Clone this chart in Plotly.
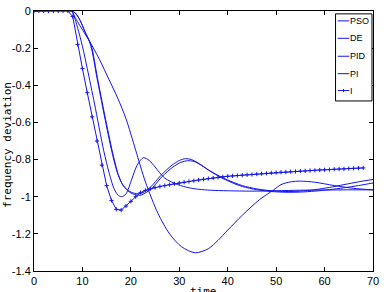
import plotly.graph_objects as go

# ---- data ----
pso_t = [0, 7.7, 8.5, 9.5, 10.5, 11.7, 13, 14.5, 16.1, 17.2, 18.2, 19.5, 20.8, 21.6, 22.5, 24, 26.2, 28.5, 30, 31.3, 32.5, 34, 36, 38, 40, 43, 46, 49, 52, 55, 58, 61, 64, 67, 70]
pso_y = [0, 0, -0.01, -0.05, -0.11, -0.184, -0.36, -0.56, -0.76, -0.87, -0.93, -0.968, -0.982, -0.984, -0.978, -0.95, -0.885, -0.83, -0.805, -0.795, -0.80, -0.82, -0.855, -0.885, -0.91, -0.94, -0.958, -0.968, -0.972, -0.97, -0.962, -0.95, -0.935, -0.92, -0.907]

de_t = [0, 7.7, 8.5, 9.5, 10.5, 11.8, 13.1, 14.6, 16.3, 17.4, 18.4, 19.7, 21, 22, 23, 24.5, 26.5, 28.7, 30.3, 31.7, 33, 34.5, 36.5, 38.5, 40.5, 43, 46, 49, 52, 55, 58, 61, 64, 67, 70]
de_y = [0, 0, -0.01, -0.05, -0.11, -0.184, -0.36, -0.56, -0.77, -0.88, -0.94, -0.975, -0.99, -0.992, -0.98, -0.95, -0.89, -0.84, -0.815, -0.806, -0.81, -0.83, -0.865, -0.895, -0.92, -0.945, -0.962, -0.972, -0.976, -0.975, -0.97, -0.962, -0.952, -0.94, -0.926]

pid_t = [0, 7.7, 8.3, 9, 10, 11, 12.5, 14.4, 15.5, 16.5, 17.3, 18.1, 19, 20.2, 21.3, 22.6, 23.8, 25, 27, 29.7, 32, 34, 36.4, 40, 45, 50, 55, 60, 65, 70]
pid_y = [0, 0, -0.03, -0.09, -0.19, -0.31, -0.5, -0.753, -0.87, -0.955, -0.99, -1.0, -0.985, -0.905, -0.83, -0.79, -0.805, -0.84, -0.9, -0.935, -0.952, -0.96, -0.965, -0.968, -0.97, -0.968, -0.965, -0.964, -0.963, -0.963]

pi_t = [0, 7.7, 8.5, 9.5, 11.4, 13.5, 15.5, 17.3, 19, 21, 23, 25.6, 28, 30.5, 33.3, 36, 38, 40, 43, 46.6, 49.4, 51, 53, 55, 58, 62, 66, 70]
pi_y = [0, 0, -0.035, -0.08, -0.16, -0.26, -0.37, -0.47, -0.58, -0.75, -0.92, -1.09, -1.2, -1.27, -1.302, -1.28, -1.235, -1.18, -1.1, -1.015, -0.965, -0.935, -0.92, -0.916, -0.922, -0.94, -0.955, -0.963]

i_t = list(range(0, 69))
i_y = [0, 0, 0, 0, 0, 0, 0, 0, -0.03, -0.18, -0.31, -0.44, -0.57, -0.70, -0.83, -0.94, -1.02, -1.068, -1.072, -1.05,
       -1.025, -1.0, -0.978, -0.966, -0.958, -0.951, -0.945, -0.94, -0.935, -0.93,
       -0.926, -0.922, -0.918, -0.914, -0.91, -0.906, -0.902, -0.899, -0.896, -0.893,
       -0.89, -0.888, -0.886, -0.884, -0.882, -0.88, -0.878, -0.876, -0.874, -0.872,
       -0.87, -0.868, -0.867, -0.865, -0.864, -0.862, -0.861, -0.859, -0.858, -0.856,
       -0.855, -0.854, -0.852, -0.851, -0.85, -0.848, -0.847, -0.846, -0.845]

legend_names = ['PSO', 'DE', 'PID', 'PI', 'I']
x_ticks = [0, 10, 20, 30, 40, 50, 60, 70]
y_ticks = [0, -0.2, -0.4, -0.6, -0.8, -1.0, -1.2, -1.4]
y_tick_text = ['0', '-0.2', '-0.4', '-0.6', '-0.8', '-1', '-1.2', '-1.4']

BLUE = 'rgb(20,20,240)'
FAM = 'Liberation Sans Narrow, Arial Narrow, Liberation Sans, Arial'
TICKFONT = dict(family=FAM, size=11, color='black')

fig = go.Figure()
series = [(pso_t, pso_y), (de_t, de_y), (pid_t, pid_y), (pi_t, pi_y)]
for name, (t, y) in zip(legend_names[:4], series):
    fig.add_trace(go.Scatter(x=t, y=y, mode='lines', name=name, showlegend=False,
                             line=dict(color=BLUE, width=1, shape='spline', smoothing=0.8)))
fig.add_trace(go.Scatter(x=i_t, y=i_y, mode='lines+markers', name=legend_names[4], showlegend=False,
                         line=dict(color=BLUE, width=1),
                         marker=dict(symbol='cross-thin', size=3, color=BLUE,
                                     line=dict(color=BLUE, width=1))))

fig.update_layout(
    width=384, height=292,
    margin=dict(l=34, r=6, t=5, b=21),
    plot_bgcolor='white', paper_bgcolor='white',
    showlegend=False,
    font=TICKFONT,
)
fig.update_xaxes(range=[0, 70], tickvals=x_ticks, ticks='inside', ticklen=4, tickcolor='black',
                 showline=True, linecolor='black', linewidth=1, mirror='ticks',
                 showgrid=False, zeroline=False, tickfont=TICKFONT, ticklabeloverflow='allow')
fig.update_yaxes(range=[-1.4, 0], tickvals=y_ticks, ticktext=y_tick_text, ticks='inside', ticklen=4,
                 tickcolor='black', showline=True, linecolor='black', linewidth=1, mirror='ticks',
                 showgrid=False, zeroline=False, tickfont=TICKFONT, ticklabeloverflow='allow')

# compact MATLAB-style legend box (paper coordinates)
lx0, lx1, ly0, ly1 = 0.8895, 0.997, 0.654, 0.989
fig.add_shape(type='rect', xref='paper', yref='paper', x0=lx0, x1=lx1, y0=ly0, y1=ly1,
              line=dict(color='black', width=1), fillcolor='white', layer='above')
entry_y = [0.962, 0.895, 0.826, 0.759, 0.694]
for name, ey in zip(legend_names, entry_y):
    fig.add_shape(type='line', xref='paper', yref='paper', x0=0.896, x1=0.930, y0=ey, y1=ey,
                  line=dict(color=BLUE, width=1), layer='above')
    if name == 'I':
        fig.add_shape(type='line', xref='paper', yref='paper', x0=0.913, x1=0.913,
                      y0=ey - 0.006, y1=ey + 0.006, line=dict(color=BLUE, width=1), layer='above')
    fig.add_annotation(text=name, xref='paper', yref='paper', x=0.931, y=ey, xanchor='left',
                       yanchor='middle', showarrow=False, xshift=-2,
                       font=dict(family=FAM, size=9, color='black'))

fig.add_annotation(text='frequency deviation', xref='paper', yref='paper', x=0, y=0.485,
                   xshift=-26, textangle=-90, showarrow=False, xanchor='center', yanchor='middle',
                   font=dict(family='DejaVu Sans Mono', size=11, color='black'))
fig.add_annotation(text='time', xref='paper', yref='paper', x=0.5, y=0, yshift=-12,
                   showarrow=False, xanchor='center', yanchor='top',
                   font=dict(family='DejaVu Sans Mono', size=11, color='black'))

fig.write_html('out.html')
